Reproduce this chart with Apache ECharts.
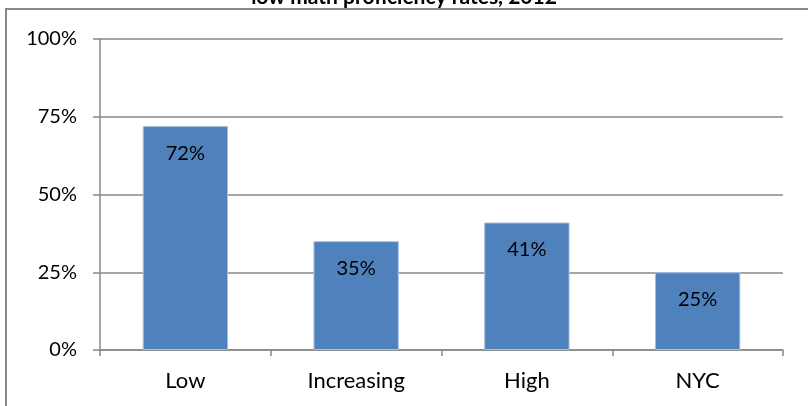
<!DOCTYPE html>
<html>
<head>
<meta charset="utf-8">
<script src="https://cdn.jsdelivr.net/npm/echarts@6/dist/echarts.min.js"></script>
<style>html,body{margin:0;padding:0;background:#fff;}#c{width:808px;height:406px;}</style>
</head>
<body>
<div id="c"></div>
<script>
const titleText = 'low math proficiency rates, 2012';
const categories = ['Low', 'Increasing', 'High', 'NYC'];
const values = [0.72, 0.35, 0.41, 0.25];
const yTicks = [0, 0.25, 0.5, 0.75, 1];

const FONT = 'Lato';
const chart = echarts.init(document.getElementById('c'), null, {renderer: 'canvas'});
chart.setOption({
  backgroundColor: '#fff',
  animation: false,
  title: {
    text: titleText,
    left: 'center',
    top: -18,
    textStyle: {fontFamily: FONT, fontWeight: 'bold', fontSize: 21, color: '#000'}
  },
  graphic: [{
    type: 'rect',
    shape: {x: 6, y: 9, width: 900, height: 500},
    style: {fill: 'none', stroke: '#888', lineWidth: 2},
    z: 100
  }],
  grid: {left: 100, right: 25, top: 39, bottom: 56},
  xAxis: {
    type: 'category',
    data: categories,
    axisLine: {show: true, lineStyle: {color: '#888', width: 1.5}},
    axisTick: {show: true, length: 6, lineStyle: {color: '#888', width: 1.5}},
    axisLabel: {fontFamily: FONT, fontSize: 22, color: '#000', margin: 20}
  },
  yAxis: {
    type: 'value',
    min: yTicks[0],
    max: yTicks[yTicks.length - 1],
    interval: 0.25,
    axisLine: {show: true, lineStyle: {color: '#888', width: 1.5}},
    axisTick: {show: true, length: 7, lineStyle: {color: '#888', width: 1.5}},
    splitLine: {show: true, lineStyle: {color: '#888', width: 1.5}},
    axisLabel: {
      fontFamily: FONT, fontSize: 20, color: '#000', margin: 23,
      formatter: v => Math.round(v * 100) + '%'
    }
  },
  series: [{
    type: 'bar',
    data: values,
    barCategoryGap: '50%',
    itemStyle: {color: '#4F81BD', borderColor: '#a9c1e0', borderWidth: 1},
    label: {
      show: true,
      position: 'insideTop',
      distance: 17,
      fontFamily: FONT, fontSize: 20, color: '#000',
      formatter: p => Math.round(p.value * 100) + '%'
    }
  }]
});
</script>
</body>
</html>
